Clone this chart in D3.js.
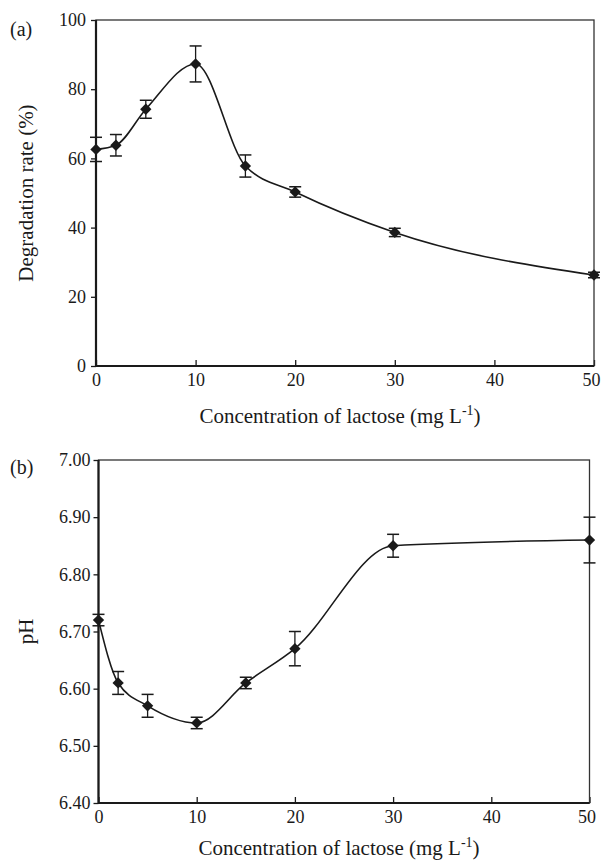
<!DOCTYPE html>
<html>
<head>
<meta charset="utf-8">
<script src="https://cdn.jsdelivr.net/npm/d3@7"></script>
<style>
  body { margin: 0; background: #fff; }
  svg text { font-family: "Liberation Serif", "Times New Roman", Tinos, "DejaVu Serif", serif; fill: #1a1a1a; }
</style>
</head>
<body>
<script>
// lactose concentration (mg/L), shared by both panels
const concentration = [0, 2, 5, 10, 15, 20, 30, 50];

// panel (a): degradation rate (%) with error bars
const degradationRate = [62.6, 63.8, 74.2, 87.3, 57.8, 50.3, 38.6, 26.3];
const degradationErr  = [3.5, 3.1, 2.6, 5.2, 3.2, 1.5, 1.2, 0.8];

// panel (b): pH with error bars
const pHValue = [6.72, 6.61, 6.57, 6.54, 6.61, 6.67, 6.85, 6.86];
const pHErr   = [0.01, 0.02, 0.02, 0.01, 0.01, 0.03, 0.02, 0.04];

const xTickValues = [0, 10, 20, 30, 40, 50];
const degradationTicks = [0, 20, 40, 60, 80, 100];
const pHTicks = [6.40, 6.50, 6.60, 6.70, 6.80, 6.90, 7.00];

const ink = "#1a1a1a";
const serif = '"Liberation Serif", "Times New Roman", Tinos, "DejaVu Serif", serif';

const svg = d3.select("body").append("svg")
    .attr("width", 601)
    .attr("height", 860);

function drawPanel(p) {
  const x = d3.scaleLinear().domain([0, 50]).range([p.left, p.right]);
  const y = d3.scaleLinear().domain(p.yDomain).range([p.bottom, p.top]);
  const g = svg.append("g");

  const data = concentration.map((c, i) => ({ c: c, v: p.values[i], e: p.errors[i] }));

  // x axis, ticks pointing inward
  const xa = g.append("g")
      .attr("transform", `translate(0,${p.bottom})`)
      .call(d3.axisBottom(x).tickValues(xTickValues).tickSize(-6).tickSizeOuter(0).tickPadding(7));
  xa.attr("font-family", null);
  xa.select(".domain").remove();
  xa.selectAll("line").attr("stroke", ink).attr("stroke-width", 1.3);
  xa.selectAll("text").style("font-size", "18px").style("font-family", serif).attr("fill", ink)
      .attr("dx", d => d === 50 ? -3 : 0);

  // y axis, ticks pointing outward
  const ya = g.append("g")
      .attr("transform", `translate(${p.left},0)`)
      .call(d3.axisLeft(y).tickValues(p.yTicks).tickSize(5).tickSizeOuter(0)
        .tickPadding(p.yPad).tickFormat(d3.format(p.yFormat)));
  ya.attr("font-family", null);
  ya.select(".domain").remove();
  ya.selectAll("line").attr("stroke", ink).attr("stroke-width", 1.3);
  ya.selectAll("text").style("font-size", "18px").style("font-family", serif).attr("fill", ink);

  // frame: thin top/right, heavier left/bottom
  g.append("rect")
      .attr("x", p.left).attr("y", p.top)
      .attr("width", p.right - p.left).attr("height", p.bottom - p.top)
      .attr("fill", "none").attr("stroke", "#333").attr("stroke-width", 1.3);
  g.append("path")
      .attr("d", `M${p.left},${p.top}V${p.bottom}H${p.right}`)
      .attr("fill", "none").attr("stroke", ink).attr("stroke-width", 2.2);

  // smooth curve through the points
  const line = d3.line()
      .x(d => x(d.c))
      .y(d => y(d.v))
      .curve(d3.curveMonotoneX);
  g.append("path")
      .datum(data)
      .attr("d", line)
      .attr("fill", "none")
      .attr("stroke", ink)
      .attr("stroke-width", 1.6);

  // error bars
  const eb = g.selectAll(".eb").data(data).enter().append("g");
  eb.append("line")
      .attr("x1", d => x(d.c)).attr("x2", d => x(d.c))
      .attr("y1", d => y(d.v - d.e)).attr("y2", d => y(d.v + d.e))
      .attr("stroke", ink).attr("stroke-width", 1.3);
  [-1, 1].forEach(s => {
    eb.append("line")
        .attr("x1", d => x(d.c) - 6).attr("x2", d => x(d.c) + 6)
        .attr("y1", d => y(d.v + s * d.e)).attr("y2", d => y(d.v + s * d.e))
        .attr("stroke", ink).attr("stroke-width", 1.5);
  });

  // diamond markers
  g.selectAll(".pt").data(data).enter().append("path")
      .attr("d", d3.symbol(d3.symbolSquare, 64))
      .attr("transform", d => `translate(${x(d.c)},${y(d.v)}) rotate(45)`)
      .attr("fill", ink);

  // axis titles
  const xt = g.append("text")
      .attr("x", (p.left + p.right) / 2 - 5)
      .attr("y", p.xTitleY)
      .attr("text-anchor", "middle")
      .style("font-size", "21px");
  xt.append("tspan").text("Concentration of lactose (mg L");
  xt.append("tspan").attr("dy", -8).style("font-size", "14px").text("-1");
  xt.append("tspan").attr("dy", 8).text(")");

  g.append("text")
      .attr("transform", `translate(${p.yTitleX},${(p.top + p.bottom) / 2}) rotate(-90)`)
      .attr("text-anchor", "middle")
      .style("font-size", "21px")
      .text(p.yTitle);

  g.append("text")
      .attr("x", 10)
      .attr("y", p.labelY)
      .style("font-size", "20px")
      .text(p.label);
}

drawPanel({
  left: 96, right: 594, top: 20, bottom: 366,
  values: degradationRate, errors: degradationErr,
  yDomain: [0, 100], yTicks: degradationTicks, yFormat: "d", yPad: 5,
  yTitle: "Degradation rate (%)", yTitleX: 33,
  xTitleY: 423, label: "(a)", labelY: 36
});

drawPanel({
  left: 98.5, right: 589.5, top: 460, bottom: 803,
  values: pHValue, errors: pHErr,
  yDomain: [6.4, 7.0], yTicks: pHTicks, yFormat: ".2f", yPad: 3,
  yTitle: "pH", yTitleX: 33,
  xTitleY: 855, label: "(b)", labelY: 474
});
</script>
</body>
</html>
